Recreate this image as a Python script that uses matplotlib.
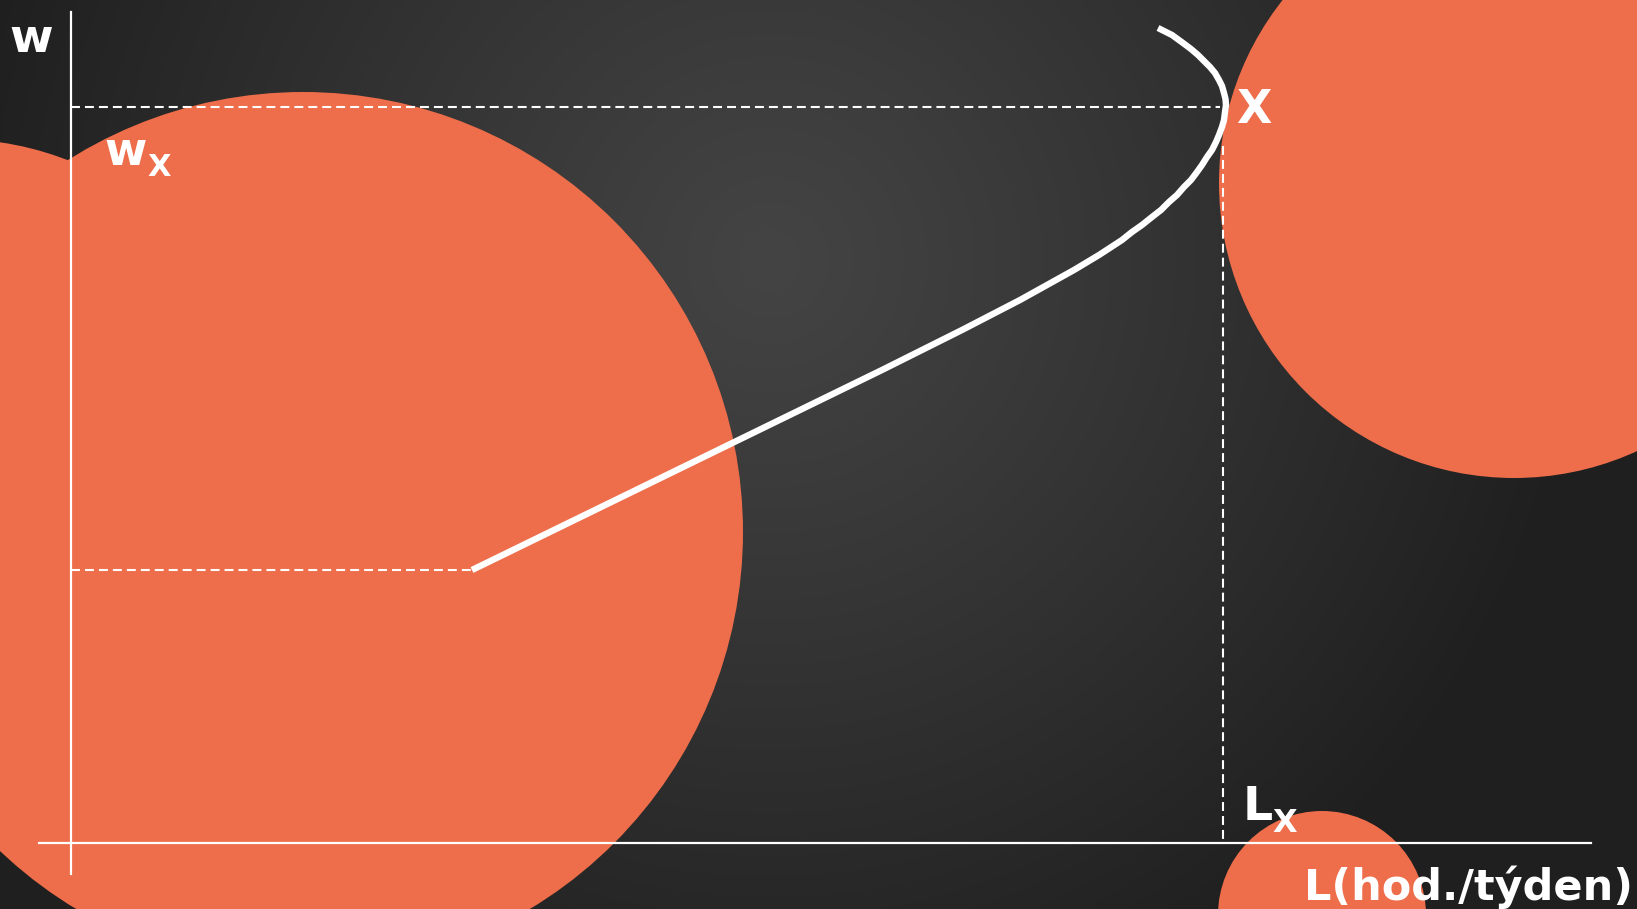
import numpy as np
import matplotlib
matplotlib.use("Agg")
import matplotlib.pyplot as plt
from matplotlib.patches import Circle

W, H = 1637, 909

# labour supply curve (pixel coords, y grows downward)
curve_y = [570, 530, 490, 450, 410, 370, 330, 300, 270, 255, 240, 232, 225, 217,
           210, 202, 195, 187, 180, 172, 165, 157, 150, 142, 135, 127, 120, 112,
           105, 99, 93, 86, 80, 73, 67, 61, 55, 49, 43, 35, 28]
curve_x = [472, 554, 636, 718, 800, 882, 962, 1020, 1074, 1099, 1122, 1132, 1142, 1152,
           1161, 1169, 1177, 1184, 1191, 1197, 1202, 1207, 1212, 1216, 1219, 1222, 1224, 1225,
           1226, 1225.5, 1224, 1222, 1219, 1215, 1210, 1204, 1198, 1191, 1183, 1172, 1158]

# decorative orange discs: centre x, centre y, radius
disc_x = [303, -45, 1514, 1322]
disc_y = [532, 450, 183, 915]
disc_r = [440, 311, 295, 104]

# key points
x_origin, y_origin = 71, 843
L_x, w_x = 1223, 107
w_start = 570          # reservation wage level (start of curve)

ORANGE = "#EE6D4A"

fig = plt.figure(figsize=(W / 100, H / 100), dpi=100)
ax = fig.add_axes([0, 0, 1, 1])
ax.set_xlim(0, W)
ax.set_ylim(H, 0)
ax.axis("off")

# radial dark gradient background
yy, xx = np.mgrid[0:H, 0:W]
d = np.sqrt((xx - 770) ** 2 + (yy - 260) ** 2) / 820
d = np.clip(d, 0, 1) ** 1.1
light, dark = 0x44, 0x1f
g = (light + (dark - light) * d) / 255
ax.imshow(np.dstack([g, g, g]), extent=[0, W, H, 0], zorder=0, aspect="auto")

for cx, cy, r in zip(disc_x, disc_y, disc_r):
    ax.add_patch(Circle((cx, cy), r, color=ORANGE, lw=0, zorder=1))

# axes
ax.plot([x_origin, x_origin], [12, 874], color="white", lw=1.6, zorder=3)
ax.plot([39, 1591], [y_origin, y_origin], color="white", lw=1.6, zorder=3)

# dashed guides
dash = (0, (4.3, 2.4))
ax.plot([x_origin, L_x - 3], [w_x, w_x], color="white", lw=1.5, ls=dash, zorder=3)
ax.plot([L_x, L_x], [146, y_origin], color="white", lw=1.5, ls=dash, zorder=3)
ax.plot([x_origin, curve_x[0]], [w_start, w_start], color="white", lw=1.5, ls=dash, zorder=3)

# curve
ax.plot(curve_x, curve_y, color="white", lw=4.6, solid_capstyle="butt",
        solid_joinstyle="round", zorder=4)

txt = dict(color="white", fontweight="bold", family="DejaVu Sans", va="baseline", zorder=5)
ax.text(9, 52, "w", fontsize=34, **txt)
ax.text(104, 165, "w", fontsize=33, **txt)
ax.text(147, 176, "X", fontsize=22, **txt)
ax.text(1236, 123, "X", fontsize=33, **txt)
ax.text(1243, 820, "L", fontsize=34, **txt)
ax.text(1272, 832, "X", fontsize=23, **txt)
ax.text(1633, 900, "L(hod./týden)", fontsize=31, ha="right", **txt)

fig.savefig("out.png", dpi=100)
